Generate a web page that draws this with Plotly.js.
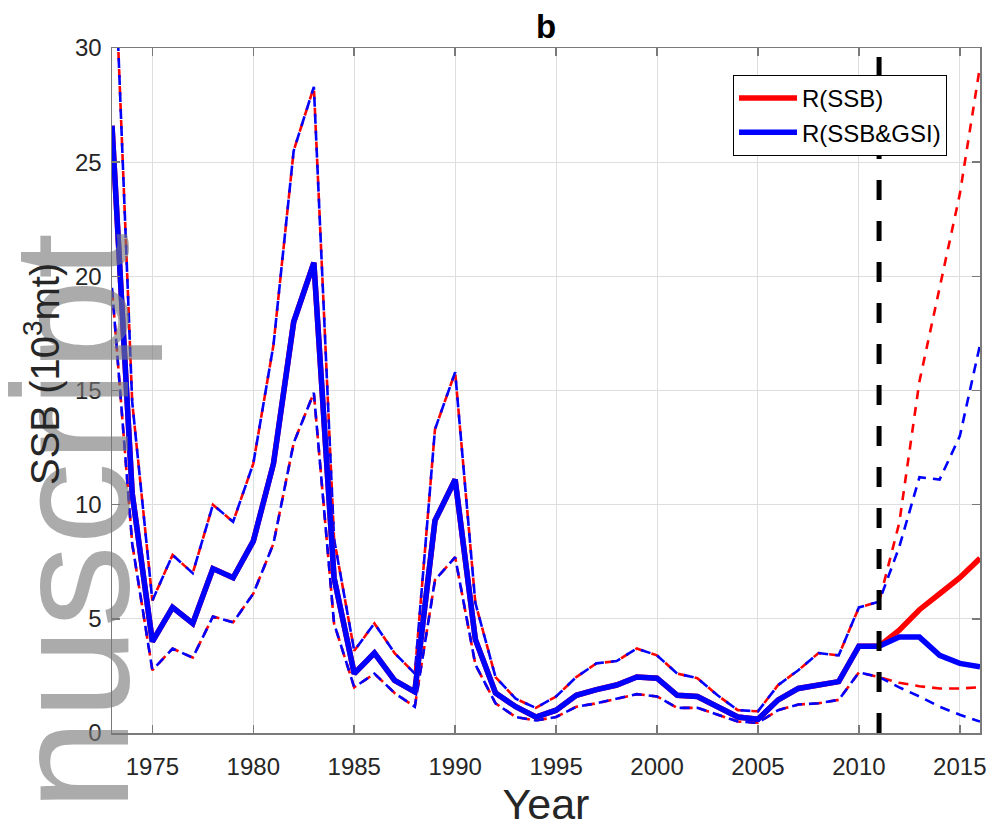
<!DOCTYPE html>
<html>
<head>
<meta charset="utf-8">
<script src="https://cdn.plot.ly/plotly-3.0.1.min.js"></script>
<style>html,body{margin:0;padding:0;background:#fff;}#chart{width:995px;height:829px;}</style>
</head>
<body>
<div id="chart"></div>
<script>
// ---- data ----
const histYears = [1973,1974,1975,1976,1977,1978,1979,1980,1981,1982,1983,1984,1985,1986,1987,1988,1989,1990,1991,1992,1993,1994,1995,1996,1997,1998,1999,2000,2001,2002,2003,2004,2005,2006,2007,2008,2009,2010,2011];
const projYears = [2012,2013,2014,2015,2016];

const histMid   = [26.6,10.5,4.0,5.5,4.8,7.2,6.8,8.4,11.8,18.0,20.6,6.8,2.6,3.5,2.3,1.8,9.3,11.1,4.1,1.75,1.15,0.7,1.0,1.65,1.9,2.1,2.45,2.4,1.65,1.6,1.15,0.7,0.6,1.45,1.95,2.1,2.25,3.8,3.8];
const histUpper = [37.0,14.5,5.8,7.8,7.0,10.0,9.25,11.8,17.0,25.5,28.3,8.5,3.6,4.8,3.5,2.6,13.3,15.8,5.7,2.45,1.5,1.1,1.6,2.45,3.05,3.15,3.7,3.4,2.6,2.4,1.65,1.0,0.95,2.1,2.75,3.5,3.4,5.5,5.75];
const histLower = [19.5,8.3,2.75,3.7,3.3,5.1,4.85,6.1,8.3,12.7,14.9,4.8,2.0,2.6,1.75,1.15,6.7,7.7,3.0,1.3,0.7,0.55,0.7,1.15,1.3,1.5,1.7,1.6,1.1,1.1,0.8,0.5,0.45,1.0,1.25,1.3,1.45,2.65,2.45];

const ssbProjMid     = [4.5,5.4,6.1,6.8,7.65];
const ssbProjUpper   = [9.2,15.4,19.5,23.6,29.2];
const ssbProjLower   = [2.2,2.05,1.95,1.95,2.0];

const gsiProjMid     = [4.2,4.2,3.4,3.05,2.9];
const gsiProjUpper   = [8.15,11.2,11.1,13.0,17.0];
const gsiProjLower   = [2.0,1.6,1.15,0.8,0.5];

const seriesNames = ['R(SSB)', 'R(SSB&GSI)'];
const breakYear = 2011;
const xTicks = [1975,1980,1985,1990,1995,2000,2005,2010,2015];
const yTicks = [0,5,10,15,20,25,30];

// ---- build ----
const years = histYears.concat(projYears);
const RED = '#ff0000', BLUE = '#0000ff';
const FONT = 'Arial, "Liberation Sans", Helvetica, sans-serif';
const RED_DASH_UP = '3px,8px,6px,0px';
const RED_DASH_LO = '0px,3px,10px,4px';
const BLUE_DASH = '10px,7px';

const traces = [
  {x: years, y: histUpper.concat(ssbProjUpper), mode:'lines', line:{color:RED, width:2.6, dash:RED_DASH_UP}, showlegend:false, hoverinfo:'skip'},
  {x: years, y: histLower.concat(ssbProjLower), mode:'lines', line:{color:RED, width:2.6, dash:RED_DASH_LO}, showlegend:false, hoverinfo:'skip'},
  {x: years, y: histUpper.concat(gsiProjUpper), mode:'lines', line:{color:BLUE, width:2.6, dash:BLUE_DASH}, showlegend:false, hoverinfo:'skip'},
  {x: years, y: histLower.concat(gsiProjLower), mode:'lines', line:{color:BLUE, width:2.6, dash:BLUE_DASH}, showlegend:false, hoverinfo:'skip'},
  {x: years, y: histMid.concat(ssbProjMid), mode:'lines', name: seriesNames[0], line:{color:RED, width:5.5}},
  {x: years, y: histMid.concat(gsiProjMid), mode:'lines', name: seriesNames[1], line:{color:BLUE, width:5.5}}
];

const axisCommon = {
  showline:true, linecolor:'#7a7a7a', linewidth:1.5, mirror:'ticks',
  ticks:'inside', ticklen:8, tickwidth:1.5, tickcolor:'#7a7a7a',
  showgrid:true, gridcolor:'#dedede', gridwidth:1, zeroline:false,
  tickfont:{family:FONT, size:24, color:'#262626'}
};

const layout = {
  width:995, height:829,
  margin:{l:112, r:15, t:48, b:96},
  paper_bgcolor:'#ffffff', plot_bgcolor:'#ffffff',
  font:{family:FONT, color:'#262626'},
  title:{text:'<b>b</b>', font:{family:FONT, size:33, color:'#000000'}, x:0.5, xref:'paper', xanchor:'center', y:1-26/829, yref:'container', yanchor:'middle'},
  xaxis: Object.assign({}, axisCommon, {range:[1973,2016], tickvals:xTicks, ticktext:xTicks.map(String), ticklabelstandoff:12,
    title:{text:'Year', font:{family:FONT, size:43, color:'#262626'}, standoff:4}}),
  yaxis: Object.assign({}, axisCommon, {range:[0,30], tickvals:yTicks, ticktext:yTicks.map(String), ticklabelstandoff:4}),
  showlegend:true,
  legend:{x:(733-112)/868, xanchor:'left', y:(733-75)/685, yanchor:'top', bgcolor:'#ffffff', bordercolor:'#000000', borderwidth:1,
    font:{family:FONT, size:24, color:'#000000'}, itemwidth:58, tracegroupgap:0},
  shapes:[{type:'line', xref:'x', yref:'y', x0:breakYear, x1:breakYear, y0:0, y1:30, layer:'above',
    line:{color:'#000000', width:5, dash:'20px,21px'}}],
  annotations:[
    {text:'nuscript', textangle:-90, xref:'paper', yref:'paper', x:(71-112)/868, y:(733-522)/685, xanchor:'center', yanchor:'middle',
      showarrow:false, font:{family:FONT, size:165, color:'rgba(120,120,120,0.62)'}},
    {text:'SSB (10<sup>3</sup>mt)', textangle:-90, xref:'paper', yref:'paper', x:(42-112)/868, y:(733-374)/685, xanchor:'center', yanchor:'middle',
      showarrow:false, font:{family:FONT, size:40, color:'#262626'}}
  ]
};

Plotly.newPlot('chart', traces, layout, {displayModeBar:false, staticPlot:true});
</script>
</body>
</html>
